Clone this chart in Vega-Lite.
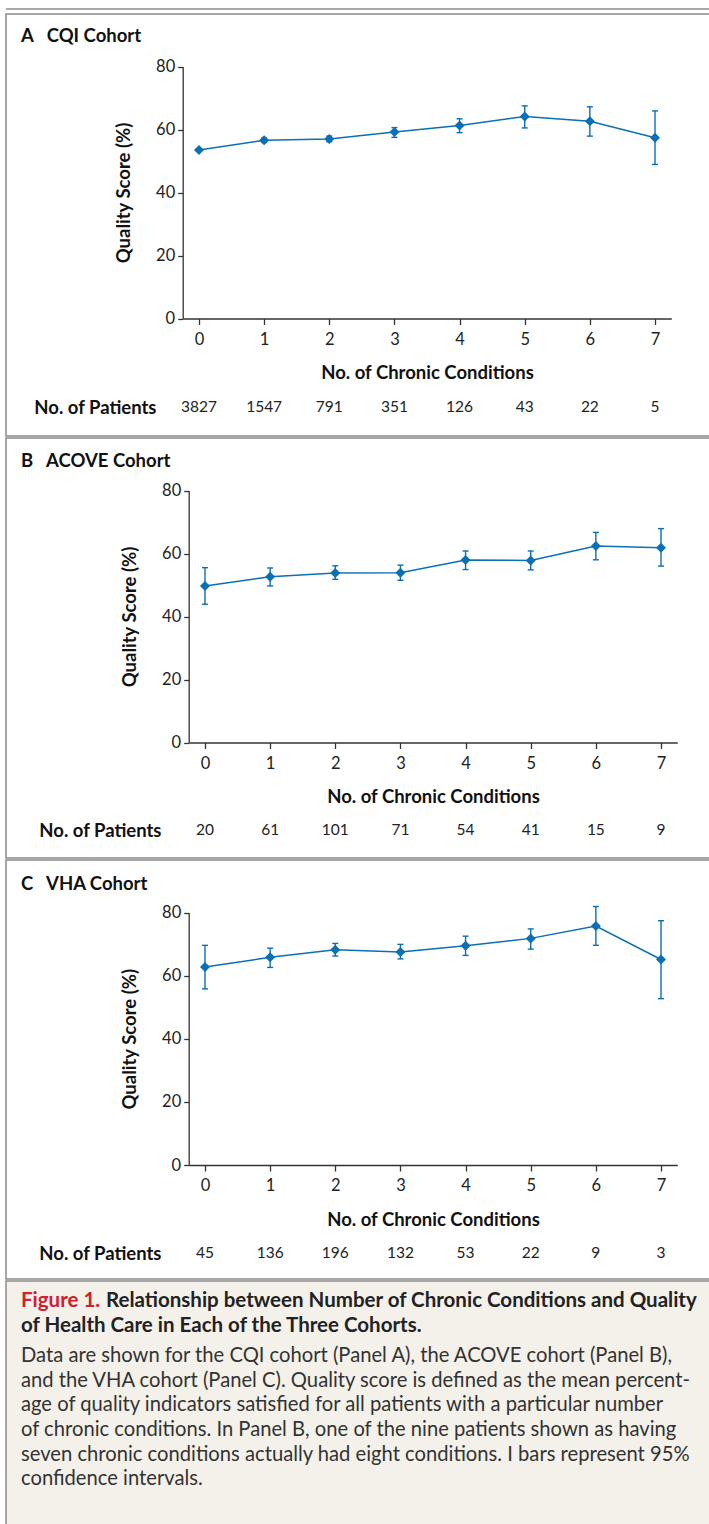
{
  "$schema": "https://vega.github.io/schema/vega-lite/v6.json",
  "padding": {"left": 5, "top": 7.5, "right": 0, "bottom": 0},
  "background": "white",
  "config": {
    "font": "Lato",
    "view": {"stroke": "#8a8a8a", "strokeWidth": 1.5},
    "axis": {"labelFont": "Lato", "titleFont": "Lato", "grid": false}
  },
  "datasets": {
    "quality": [
      {"cohort": "CQI", "cond": 0, "score": 53.5, "lo": 53.1, "hi": 53.9},
      {"cohort": "CQI", "cond": 1, "score": 56.6, "lo": 55.9, "hi": 57.3},
      {"cohort": "CQI", "cond": 2, "score": 57.0, "lo": 56.1, "hi": 57.9},
      {"cohort": "CQI", "cond": 3, "score": 59.2, "lo": 57.5, "hi": 60.6},
      {"cohort": "CQI", "cond": 4, "score": 61.3, "lo": 59.0, "hi": 63.4},
      {"cohort": "CQI", "cond": 5, "score": 64.1, "lo": 60.5, "hi": 67.5},
      {"cohort": "CQI", "cond": 6, "score": 62.6, "lo": 57.9, "hi": 67.2},
      {"cohort": "CQI", "cond": 7, "score": 57.4, "lo": 48.9, "hi": 65.9},
      {"cohort": "ACOVE", "cond": 0, "score": 49.7, "lo": 43.9, "hi": 55.5},
      {"cohort": "ACOVE", "cond": 1, "score": 52.6, "lo": 49.7, "hi": 55.4},
      {"cohort": "ACOVE", "cond": 2, "score": 53.8, "lo": 51.8, "hi": 56.1},
      {"cohort": "ACOVE", "cond": 3, "score": 53.9, "lo": 51.5, "hi": 56.3},
      {"cohort": "ACOVE", "cond": 4, "score": 57.9, "lo": 54.9, "hi": 60.8},
      {"cohort": "ACOVE", "cond": 5, "score": 57.8, "lo": 54.8, "hi": 60.8},
      {"cohort": "ACOVE", "cond": 6, "score": 62.4, "lo": 58.0, "hi": 66.7},
      {"cohort": "ACOVE", "cond": 7, "score": 61.8, "lo": 56.0, "hi": 67.9},
      {"cohort": "VHA", "cond": 0, "score": 62.7, "lo": 55.8, "hi": 69.6},
      {"cohort": "VHA", "cond": 1, "score": 65.8, "lo": 62.6, "hi": 68.7},
      {"cohort": "VHA", "cond": 2, "score": 68.2, "lo": 66.2, "hi": 70.2},
      {"cohort": "VHA", "cond": 3, "score": 67.5, "lo": 65.3, "hi": 69.9},
      {"cohort": "VHA", "cond": 4, "score": 69.5, "lo": 66.4, "hi": 72.5},
      {"cohort": "VHA", "cond": 5, "score": 71.8, "lo": 68.4, "hi": 74.8},
      {"cohort": "VHA", "cond": 6, "score": 75.7, "lo": 69.6, "hi": 81.9},
      {"cohort": "VHA", "cond": 7, "score": 65.1, "lo": 52.7, "hi": 77.4}
    ],
    "patients": [
      {"cohort": "CQI", "cond": 0, "n": 3827, "row": "No. of Patients"},
      {"cohort": "CQI", "cond": 1, "n": 1547, "row": "No. of Patients"},
      {"cohort": "CQI", "cond": 2, "n": 791, "row": "No. of Patients"},
      {"cohort": "CQI", "cond": 3, "n": 351, "row": "No. of Patients"},
      {"cohort": "CQI", "cond": 4, "n": 126, "row": "No. of Patients"},
      {"cohort": "CQI", "cond": 5, "n": 43, "row": "No. of Patients"},
      {"cohort": "CQI", "cond": 6, "n": 22, "row": "No. of Patients"},
      {"cohort": "CQI", "cond": 7, "n": 5, "row": "No. of Patients"},
      {"cohort": "ACOVE", "cond": 0, "n": 20, "row": "No. of Patients"},
      {"cohort": "ACOVE", "cond": 1, "n": 61, "row": "No. of Patients"},
      {"cohort": "ACOVE", "cond": 2, "n": 101, "row": "No. of Patients"},
      {"cohort": "ACOVE", "cond": 3, "n": 71, "row": "No. of Patients"},
      {"cohort": "ACOVE", "cond": 4, "n": 54, "row": "No. of Patients"},
      {"cohort": "ACOVE", "cond": 5, "n": 41, "row": "No. of Patients"},
      {"cohort": "ACOVE", "cond": 6, "n": 15, "row": "No. of Patients"},
      {"cohort": "ACOVE", "cond": 7, "n": 9, "row": "No. of Patients"},
      {"cohort": "VHA", "cond": 0, "n": 45, "row": "No. of Patients"},
      {"cohort": "VHA", "cond": 1, "n": 136, "row": "No. of Patients"},
      {"cohort": "VHA", "cond": 2, "n": 196, "row": "No. of Patients"},
      {"cohort": "VHA", "cond": 3, "n": 132, "row": "No. of Patients"},
      {"cohort": "VHA", "cond": 4, "n": 53, "row": "No. of Patients"},
      {"cohort": "VHA", "cond": 5, "n": 22, "row": "No. of Patients"},
      {"cohort": "VHA", "cond": 6, "n": 9, "row": "No. of Patients"},
      {"cohort": "VHA", "cond": 7, "n": 3, "row": "No. of Patients"}
    ],
    "caption": [
      {"line": 0, "kind": "fig", "text": "Figure 1."},
      {"line": 0, "kind": "headrest", "text": "Relationship between Number of Chronic Conditions and Quality"},
      {"line": 1, "kind": "head", "text": "of Health Care in Each of the Three Cohorts."},
      {"line": 2, "kind": "body", "text": "Data are shown for the CQI cohort (Panel A), the ACOVE cohort (Panel B),"},
      {"line": 3, "kind": "body", "text": "and the VHA cohort (Panel C). Quality score is defined as the mean percent-"},
      {"line": 4, "kind": "body", "text": "age of quality indicators satisfied for all patients with a particular number"},
      {"line": 5, "kind": "body", "text": "of chronic conditions. In Panel B, one of the nine patients shown as having"},
      {"line": 6, "kind": "body", "text": "seven chronic conditions actually had eight conditions. I bars represent 95%"},
      {"line": 7, "kind": "body", "text": "confidence intervals."}
    ]
  },
  "spacing": 3.5,
  "vconcat": [
    {
      "width": 706, "height": 1,
      "view": {"fill": "#555555", "stroke": null},
      "data": {"values": [{}]},
      "mark": {"type": "rule", "opacity": 0},
      "encoding": {}
    },
    {
      "spacing": 0,
      "vconcat": [
        {
          "width": 706, "height": 422,
          "title": {"text": "A\u00a0\u00a0\u00a0CQI Cohort", "anchor": "start", "frame": "group", "offset": -31, "dx": 15, "fontSize": 18.5, "fontWeight": "bold", "color": "#111111"},
          "layer": [
            {
              "data": {"name": "quality"},
              "transform": [{"filter": "datum.cohort === 'CQI'"}],
              "encoding": {
                "x": {"field": "cond", "type": "quantitative", "title": "No. of Chronic Conditions",
                  "scale": {"domain": [-0.25, 7.25], "range": [176.7, 665.3], "nice": false, "zero": false},
                  "axis": {"values": [0, 1, 2, 3, 4, 5, 6, 7], "format": "d", "offset": -117.5, "tickSize": 6, "labelPadding": 6.5, "labelFontSize": 16.5, "labelColor": "#222222", "labelFlush": false, "domainColor": "#333333", "tickColor": "#333333", "domainWidth": 1.3, "tickWidth": 1.3, "titleFontSize": 18.5, "titleFontWeight": "bold", "titleColor": "#111111", "titlePadding": 16}}
              },
              "layer": [
                {"mark": {"type": "rule", "color": "#0b6fb6", "strokeWidth": 1.4},
                 "encoding": {
                   "y": {"field": "lo", "type": "quantitative", "title": "Quality Score (%)",
                     "scale": {"domain": [0, 80], "range": [304.5, 52.5], "nice": false, "zero": false},
                     "axis": {"values": [0, 20, 40, 60, 80], "offset": -176.7, "tickSize": 5, "labelPadding": 3, "labelFontSize": 16.5, "labelColor": "#222222", "domainColor": "#333333", "tickColor": "#333333", "domainWidth": 1.3, "tickWidth": 1.3, "titleFontSize": 18.5, "titleFontWeight": "bold", "titleColor": "#111111", "titlePadding": 22}},
                   "y2": {"field": "hi"}}},
                {"mark": {"type": "tick", "orient": "horizontal", "size": 6, "thickness": 1.4, "color": "#0b6fb6", "opacity": 1},
                 "encoding": {"y": {"field": "lo", "type": "quantitative", "title": "Quality Score (%)"}}},
                {"mark": {"type": "tick", "orient": "horizontal", "size": 6, "thickness": 1.4, "color": "#0b6fb6", "opacity": 1},
                 "encoding": {"y": {"field": "hi", "type": "quantitative", "title": "Quality Score (%)"}}},
                {"mark": {"type": "line", "color": "#0b6fb6", "strokeWidth": 1.5},
                 "encoding": {"y": {"field": "score", "type": "quantitative", "title": "Quality Score (%)"}}},
                {"mark": {"type": "point", "shape": "diamond", "filled": true, "size": 100, "color": "#0b6fb6", "opacity": 1},
                 "encoding": {"y": {"field": "score", "type": "quantitative", "title": "Quality Score (%)"}}}
              ]
            },
            {
              "data": {"name": "patients"},
              "transform": [{"filter": "datum.cohort === 'CQI'"}],
              "mark": {"type": "text", "fontSize": 15.5, "color": "#222222", "baseline": "middle"},
              "encoding": {
                "x": {"field": "cond", "type": "quantitative", "title": "No. of Chronic Conditions"},
                "y": {"field": "row", "type": "nominal", "scale": {"range": [383, 403]},
                  "axis": {"orient": "left", "offset": -150, "domain": false, "ticks": false, "labelPadding": 0, "labelFontSize": 18.5, "labelFontWeight": "bold", "labelColor": "#111111", "title": null}},
                "text": {"field": "n", "type": "quantitative"}
              }
            }
          ],
          "resolve": {"scale": {"y": "independent"}, "axis": {"y": "independent"}}
        },
        {
          "width": 706, "height": 420,
          "title": {"text": "B\u00a0\u00a0\u00a0ACOVE Cohort", "anchor": "start", "frame": "group", "offset": -32, "dx": 15, "fontSize": 18.5, "fontWeight": "bold", "color": "#111111"},
          "layer": [
            {
              "data": {"name": "quality"},
              "transform": [{"filter": "datum.cohort === 'ACOVE'"}],
              "encoding": {
                "x": {"field": "cond", "type": "quantitative", "title": "No. of Chronic Conditions",
                  "scale": {"domain": [-0.25, 7.25], "range": [182.7, 671.3], "nice": false, "zero": false},
                  "axis": {"values": [0, 1, 2, 3, 4, 5, 6, 7], "format": "d", "offset": -115.5, "tickSize": 6, "labelPadding": 6.5, "labelFontSize": 16.5, "labelColor": "#222222", "labelFlush": false, "domainColor": "#333333", "tickColor": "#333333", "domainWidth": 1.3, "tickWidth": 1.3, "titleFontSize": 18.5, "titleFontWeight": "bold", "titleColor": "#111111", "titlePadding": 16}}
              },
              "layer": [
                {"mark": {"type": "rule", "color": "#0b6fb6", "strokeWidth": 1.4},
                 "encoding": {
                   "y": {"field": "lo", "type": "quantitative", "title": "Quality Score (%)",
                     "scale": {"domain": [0, 80], "range": [304.5, 52.5], "nice": false, "zero": false},
                     "axis": {"values": [0, 20, 40, 60, 80], "offset": -182.7, "tickSize": 5, "labelPadding": 3, "labelFontSize": 16.5, "labelColor": "#222222", "domainColor": "#333333", "tickColor": "#333333", "domainWidth": 1.3, "tickWidth": 1.3, "titleFontSize": 18.5, "titleFontWeight": "bold", "titleColor": "#111111", "titlePadding": 22}},
                   "y2": {"field": "hi"}}},
                {"mark": {"type": "tick", "orient": "horizontal", "size": 6, "thickness": 1.4, "color": "#0b6fb6", "opacity": 1},
                 "encoding": {"y": {"field": "lo", "type": "quantitative", "title": "Quality Score (%)"}}},
                {"mark": {"type": "tick", "orient": "horizontal", "size": 6, "thickness": 1.4, "color": "#0b6fb6", "opacity": 1},
                 "encoding": {"y": {"field": "hi", "type": "quantitative", "title": "Quality Score (%)"}}},
                {"mark": {"type": "line", "color": "#0b6fb6", "strokeWidth": 1.5},
                 "encoding": {"y": {"field": "score", "type": "quantitative", "title": "Quality Score (%)"}}},
                {"mark": {"type": "point", "shape": "diamond", "filled": true, "size": 100, "color": "#0b6fb6", "opacity": 1},
                 "encoding": {"y": {"field": "score", "type": "quantitative", "title": "Quality Score (%)"}}}
              ]
            },
            {
              "data": {"name": "patients"},
              "transform": [{"filter": "datum.cohort === 'ACOVE'"}],
              "mark": {"type": "text", "fontSize": 15.5, "color": "#222222", "baseline": "middle"},
              "encoding": {
                "x": {"field": "cond", "type": "quantitative", "title": "No. of Chronic Conditions"},
                "y": {"field": "row", "type": "nominal", "scale": {"range": [382, 402]},
                  "axis": {"orient": "left", "offset": -155, "domain": false, "ticks": false, "labelPadding": 0, "labelFontSize": 18.5, "labelFontWeight": "bold", "labelColor": "#111111", "title": null}},
                "text": {"field": "n", "type": "quantitative"}
              }
            }
          ],
          "resolve": {"scale": {"y": "independent"}, "axis": {"y": "independent"}}
        },
        {
          "width": 706, "height": 419,
          "title": {"text": "C\u00a0\u00a0\u00a0VHA Cohort", "anchor": "start", "frame": "group", "offset": -33, "dx": 15, "fontSize": 18.5, "fontWeight": "bold", "color": "#111111"},
          "layer": [
            {
              "data": {"name": "quality"},
              "transform": [{"filter": "datum.cohort === 'VHA'"}],
              "encoding": {
                "x": {"field": "cond", "type": "quantitative", "title": "No. of Chronic Conditions",
                  "scale": {"domain": [-0.25, 7.25], "range": [182.7, 671.3], "nice": false, "zero": false},
                  "axis": {"values": [0, 1, 2, 3, 4, 5, 6, 7], "format": "d", "offset": -114, "tickSize": 6, "labelPadding": 6.5, "labelFontSize": 16.5, "labelColor": "#222222", "labelFlush": false, "domainColor": "#333333", "tickColor": "#333333", "domainWidth": 1.3, "tickWidth": 1.3, "titleFontSize": 18.5, "titleFontWeight": "bold", "titleColor": "#111111", "titlePadding": 16}}
              },
              "layer": [
                {"mark": {"type": "rule", "color": "#0b6fb6", "strokeWidth": 1.4},
                 "encoding": {
                   "y": {"field": "lo", "type": "quantitative", "title": "Quality Score (%)",
                     "scale": {"domain": [0, 80], "range": [305, 52.5], "nice": false, "zero": false},
                     "axis": {"values": [0, 20, 40, 60, 80], "offset": -182.7, "tickSize": 5, "labelPadding": 3, "labelFontSize": 16.5, "labelColor": "#222222", "domainColor": "#333333", "tickColor": "#333333", "domainWidth": 1.3, "tickWidth": 1.3, "titleFontSize": 18.5, "titleFontWeight": "bold", "titleColor": "#111111", "titlePadding": 22}},
                   "y2": {"field": "hi"}}},
                {"mark": {"type": "tick", "orient": "horizontal", "size": 6, "thickness": 1.4, "color": "#0b6fb6", "opacity": 1},
                 "encoding": {"y": {"field": "lo", "type": "quantitative", "title": "Quality Score (%)"}}},
                {"mark": {"type": "tick", "orient": "horizontal", "size": 6, "thickness": 1.4, "color": "#0b6fb6", "opacity": 1},
                 "encoding": {"y": {"field": "hi", "type": "quantitative", "title": "Quality Score (%)"}}},
                {"mark": {"type": "line", "color": "#0b6fb6", "strokeWidth": 1.5},
                 "encoding": {"y": {"field": "score", "type": "quantitative", "title": "Quality Score (%)"}}},
                {"mark": {"type": "point", "shape": "diamond", "filled": true, "size": 100, "color": "#0b6fb6", "opacity": 1},
                 "encoding": {"y": {"field": "score", "type": "quantitative", "title": "Quality Score (%)"}}}
              ]
            },
            {
              "data": {"name": "patients"},
              "transform": [{"filter": "datum.cohort === 'VHA'"}],
              "mark": {"type": "text", "fontSize": 15.5, "color": "#222222", "baseline": "middle"},
              "encoding": {
                "x": {"field": "cond", "type": "quantitative", "title": "No. of Chronic Conditions"},
                "y": {"field": "row", "type": "nominal", "scale": {"range": [383, 403]},
                  "axis": {"orient": "left", "offset": -155, "domain": false, "ticks": false, "labelPadding": 0, "labelFontSize": 18.5, "labelFontWeight": "bold", "labelColor": "#111111", "title": null}},
                "text": {"field": "n", "type": "quantitative"}
              }
            }
          ],
          "resolve": {"scale": {"y": "independent"}, "axis": {"y": "independent"}}
        },
        {
          "width": 706, "height": 252,
          "view": {"fill": "#f4f1ea", "stroke": "#8a8a8a", "strokeWidth": 1.5},
          "data": {"name": "caption"},
          "encoding": {
            "x": {"datum": 0, "type": "quantitative", "scale": {"domain": [0, 1]}, "axis": null},
            "y": {"field": "line", "type": "quantitative", "scale": {"domain": [0, 10], "range": [26, 272]}, "axis": null},
            "text": {"field": "text", "type": "nominal"}
          },
          "layer": [
            {"transform": [{"filter": "datum.kind === 'fig'"}],
             "mark": {"type": "text", "align": "left", "baseline": "middle", "dx": 15, "dy": -6, "fontSize": 20.5, "fontWeight": "bold", "color": "#cf2030"}},
            {"transform": [{"filter": "datum.kind === 'headrest'"}],
             "mark": {"type": "text", "align": "left", "baseline": "middle", "dx": 100, "dy": -6, "fontSize": 20.5, "fontWeight": "bold", "color": "#222222"}},
            {"transform": [{"filter": "datum.kind === 'head'"}],
             "mark": {"type": "text", "align": "left", "baseline": "middle", "dx": 15, "dy": -6, "fontSize": 20.5, "fontWeight": "bold", "color": "#222222"}},
            {"transform": [{"filter": "datum.kind === 'body'"}],
             "mark": {"type": "text", "align": "left", "baseline": "middle", "dx": 15, "fontSize": 20.2, "color": "#333333"}}
          ]
        }
      ]
    }
  ]
}
